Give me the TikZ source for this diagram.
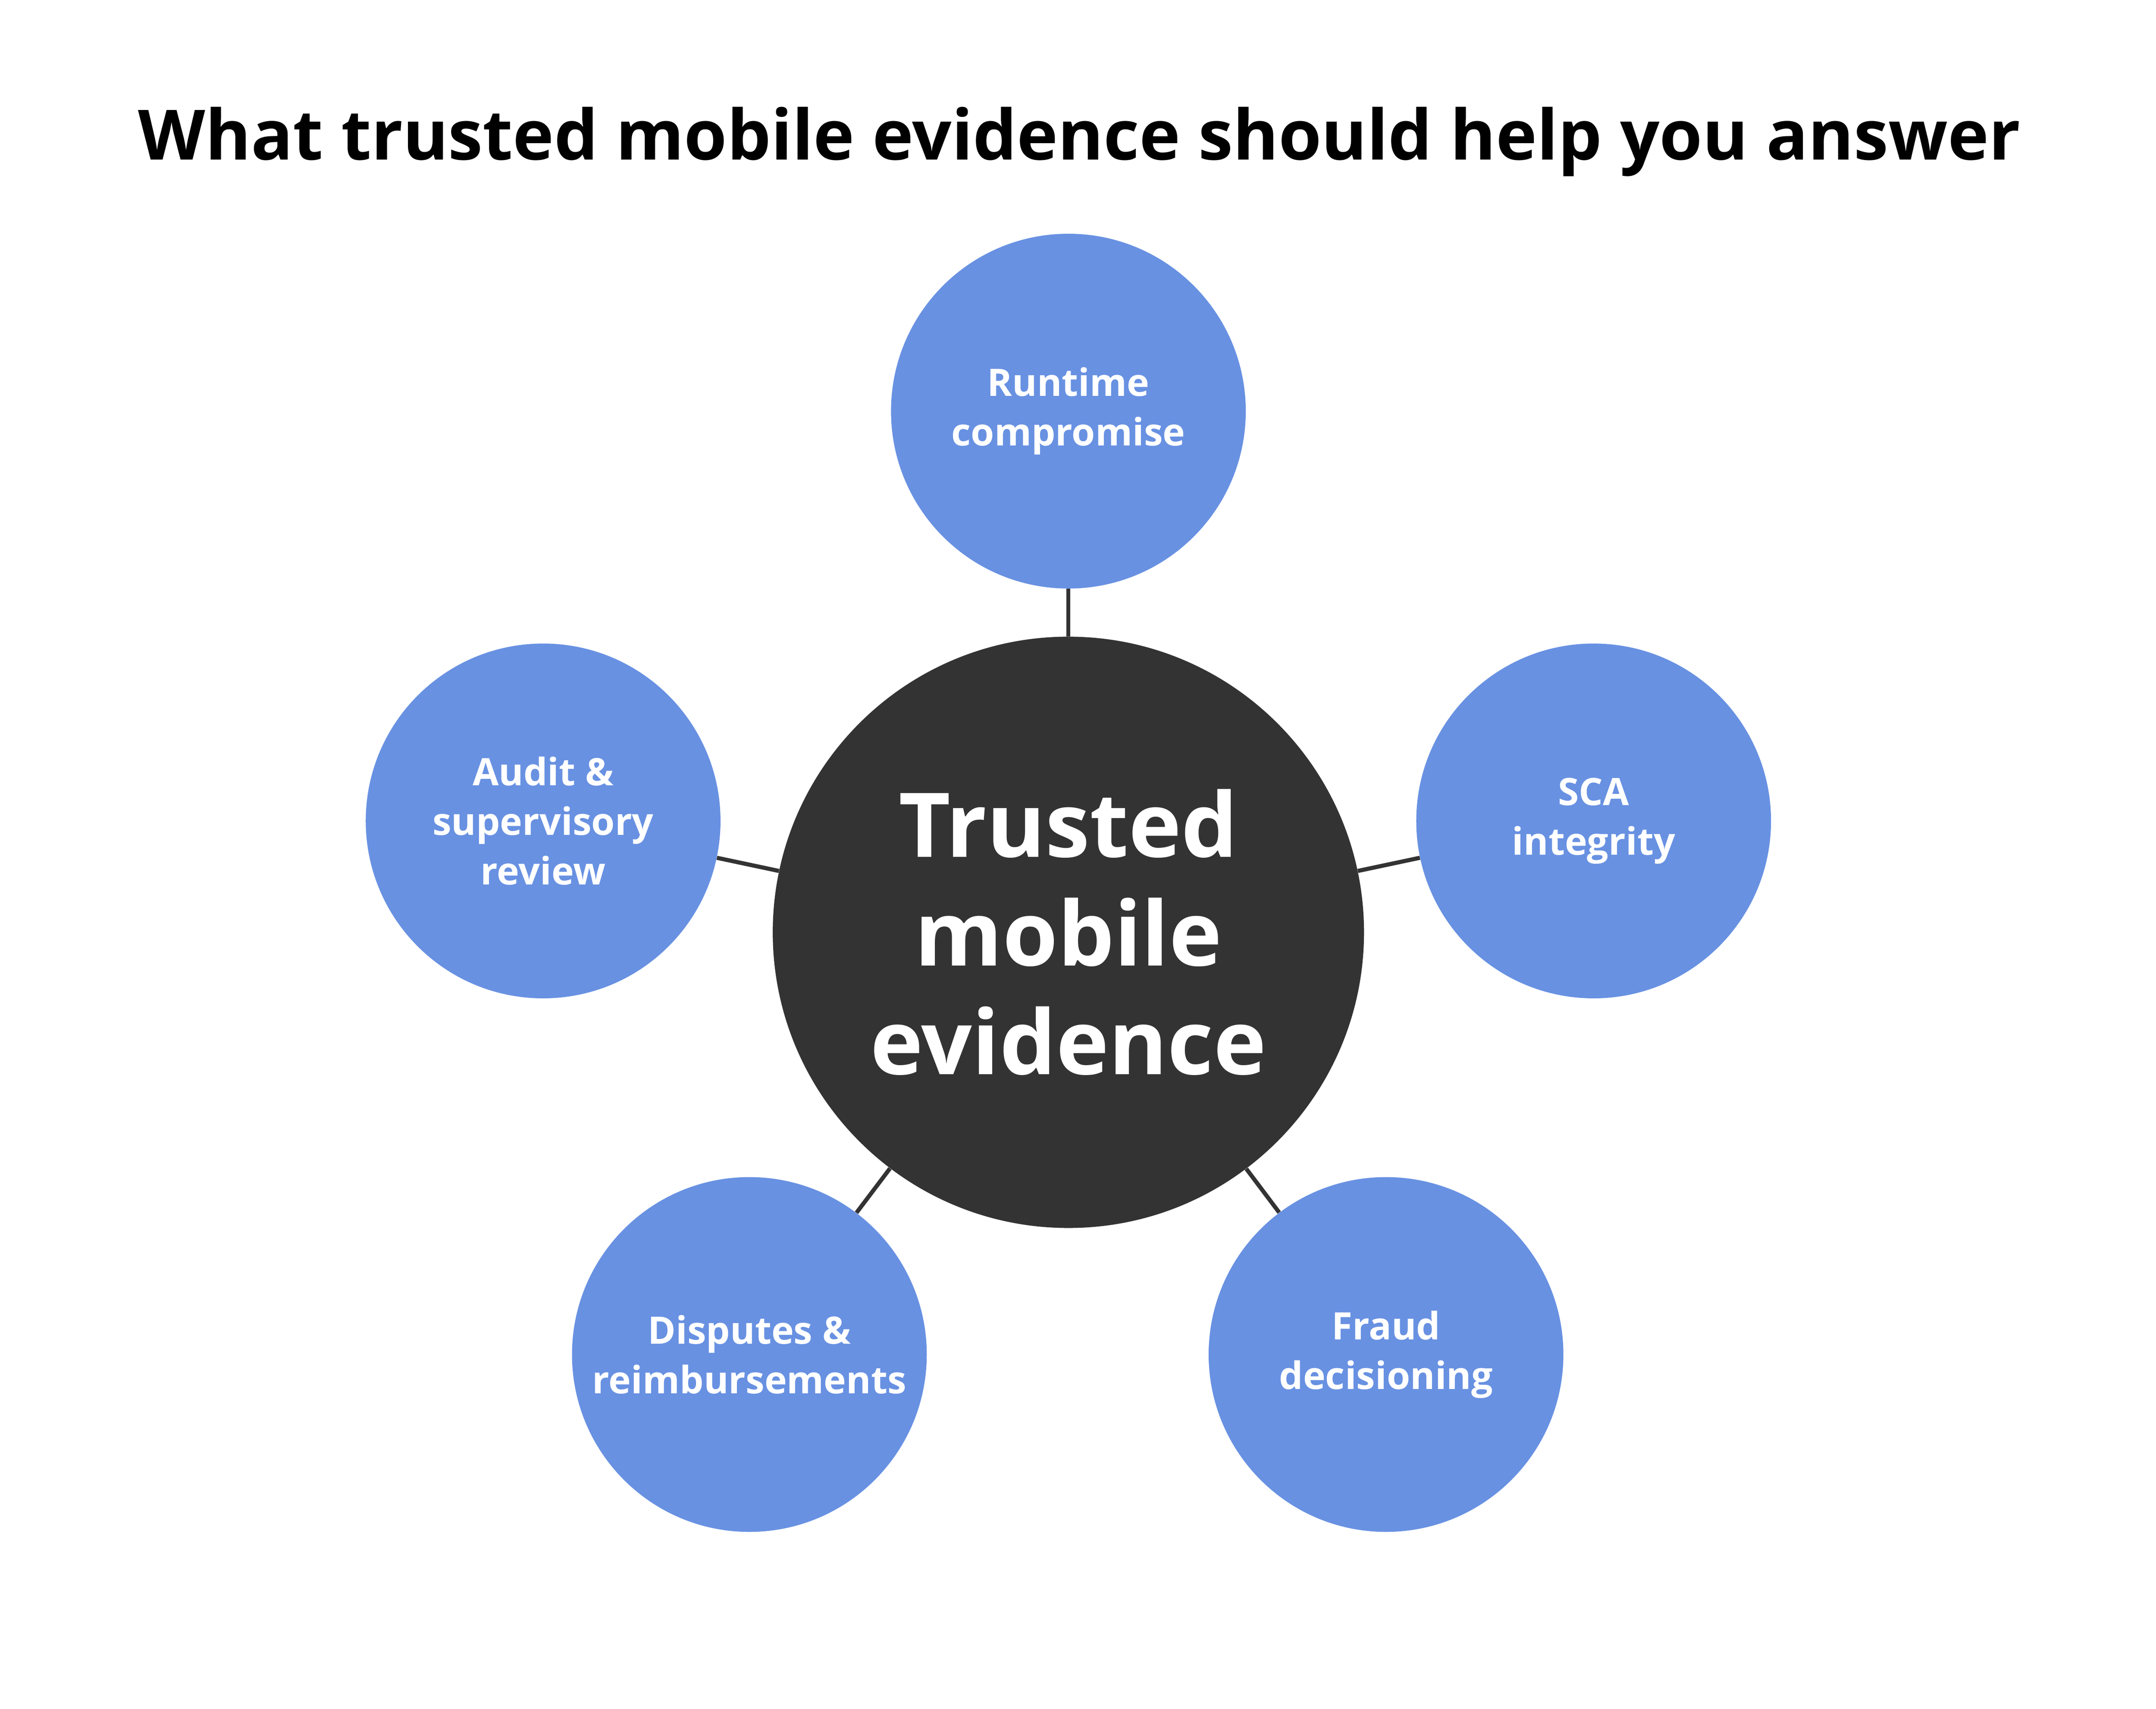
\documentclass[tikz,border=0pt]{standalone}
\usepackage{fontspec}
\setmainfont{Open Sans}
\definecolor{blu}{HTML}{6891E2}
\definecolor{dark}{HTML}{333333}
\begin{document}
\begin{tikzpicture}[x=1pt,y=1pt,
  outer/.style={circle,fill=blu,minimum size=258pt,inner sep=0pt,align=center,text=white,font=\fontsize{27.5}{36}\selectfont\bfseries},
  link/.style={draw=dark,line width=3pt}]
\useasboundingbox (0,0) rectangle (1568,1242.5);
\node[font=\fontsize{50.5}{60}\selectfont\bfseries] (title) at (785,1139.5) {What trusted mobile evidence should help you answer};
\node[circle,fill=dark,minimum size=430pt,inner sep=0pt,align=center,text=white,font=\fontsize{65}{79}\selectfont\bfseries] (c) at (777,564.5) {Trusted\\mobile\\evidence};
\node[outer] (rt) at (777,943.5) {Runtime\\compromise};
\node[outer] (sca) at (1159,645.5) {SCA\\integrity};
\node[outer] (fr) at (1008,257.5) {Fraud\\decisioning};
\node[outer] (dr) at (545,257.5) {Disputes \&\\reimbursements};
\node[outer] (au) at (395,645.5) {Audit \&\\supervisory\\review};
\foreach \n in {rt,sca,fr,dr,au} \draw[link] (c) -- (\n);
\end{tikzpicture}
\end{document}
